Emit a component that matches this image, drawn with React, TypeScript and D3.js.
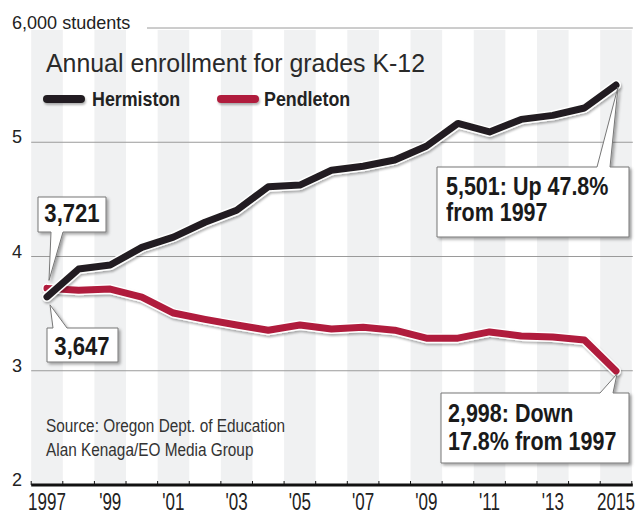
import React from 'react';
import * as d3 from 'd3';

// enrollment, grades K-12
const years = [1997, 1998, 1999, 2000, 2001, 2002, 2003, 2004, 2005, 2006, 2007, 2008, 2009, 2010, 2011, 2012, 2013, 2014, 2015];
const hermiston = [3647, 3890, 3925, 4080, 4170, 4300, 4405, 4610, 4625, 4755, 4790, 4845, 4965, 5165, 5090, 5200, 5235, 5300, 5501];
const pendleton = [3721, 3705, 3715, 3645, 3505, 3450, 3400, 3355, 3400, 3365, 3380, 3355, 3285, 3285, 3340, 3305, 3295, 3270, 2998];
const yTicks = [2000, 3000, 4000, 5000, 6000];
const yTickLabels = ['2', '3', '4', '5', '6,000 students'];
const xTickYears = [1997, 1999, 2001, 2003, 2005, 2007, 2009, 2011, 2013, 2015];
const xTickLabels = ['1997', "'99", "'01", "'03", "'05", "'07", "'09", "'11", "'13", '2015'];

const W = 635;
const H = 517;
const BLACK = '#231f20';
const RED = '#b01c3c';
const FONT = "'Liberation Sans', Arial, Helvetica, sans-serif";

// condensed look: regular font squeezed horizontally
function T(props: { x: number; y: number; size: number; sx?: number; bold?: boolean; anchor?: string; fill?: string; children: React.ReactNode }) {
  const { x, y, size, sx = 0.85, bold, anchor = 'start', fill = '#222', children } = props;
  return (
    <text transform={`translate(${x},${y}) scale(${sx},1)`} fontFamily={FONT} fontSize={size}
      fontWeight={bold ? 'bold' : 'normal'} textAnchor={anchor} fill={fill}>
      {children}
    </text>
  );
}

export default function App() {
  const x = d3.scaleLinear().domain([1997, 2015]).range([47, 616]);
  const y = d3.scaleLinear().domain([2000, 6000]).range([485, 28]);

  const line = d3.line<number>()
    .x((d, i) => x(years[i]))
    .y(d => y(d));

  const left = x(1996.5);
  const right = x(2015.5);
  const stripes = years.filter(yr => yr % 2 === 1);
  const boundaries = d3.range(1996.5, 2016, 1);

  // callout: box + wedge outline in one path
  const callout = (x0: number, y0: number, x1: number, y1: number, a: number, b: number, px: number, py: number, below: boolean) => {
    if (below) {
      return `M${x0},${y0}H${x1}V${y1}H${b}L${px},${py}L${a},${y1}H${x0}Z`;
    }
    return `M${x0},${y0}H${a}L${px},${py}L${b},${y0}H${x1}V${y1}H${x0}Z`;
  };

  const last = years.length - 1;

  return (
    <svg width={W} height={H} style={{ position: 'absolute', left: 0, top: 0, background: '#fff' }}>
      <defs>
        <filter id="shadow" filterUnits="userSpaceOnUse" x={0} y={0} width={W} height={H}>
          <feDropShadow dx="2" dy="2" stdDeviation="1.5" floodColor="#000" floodOpacity="0.35" />
        </filter>
        <filter id="lineShadow" filterUnits="userSpaceOnUse" x={0} y={0} width={W} height={H}>
          <feDropShadow dx="1" dy="2" stdDeviation="1.2" floodColor="#000" floodOpacity="0.3" />
        </filter>
      </defs>

      {stripes.map(yr => (
        <rect key={yr} x={x(yr - 0.5)} y={30} width={x(yr + 0.5) - x(yr - 0.5)} height={y(2000) - 30} fill="#f0f1f2" />
      ))}

      {yTicks.map((t, i) => (
        <g key={t}>
          {t > 2000 && (
            <line x1={t === 6000 ? 147 : left} x2={right + 1} y1={y(t)} y2={y(t)} stroke="#9a9a9a" strokeWidth={1} />
          )}
          <T x={12} y={y(t) + 1} size={19} sx={0.95}>{yTickLabels[i]}</T>
        </g>
      ))}

      <text x={46} y={72} fontFamily={FONT} fontSize={25} fill="#2a2a2a" textLength={379} lengthAdjust="spacingAndGlyphs">
        Annual enrollment for grades K-12
      </text>

      <g filter="url(#lineShadow)">
        <line x1={47} x2={81} y1={99} y2={99} stroke={BLACK} strokeWidth={8} strokeLinecap="round" />
        <line x1={221} x2={255} y1={99} y2={99} stroke={RED} strokeWidth={8} strokeLinecap="round" />
      </g>
      <T x={92} y={106} size={21} bold>Hermiston</T>
      <T x={264} y={106} size={21} bold>Pendleton</T>

      <T x={46} y={432} size={18.5} sx={0.83} fill="#333">Source: Oregon Dept. of Education</T>
      <T x={46} y={456} size={18.5} sx={0.83} fill="#333">Alan Kenaga/EO Media Group</T>

      <g filter="url(#lineShadow)">
        <path d={line(pendleton) || ''} fill="none" stroke="#fff" strokeWidth={10} strokeLinejoin="round" strokeLinecap="round" />
        <path d={line(pendleton) || ''} fill="none" stroke={RED} strokeWidth={7} strokeLinejoin="round" strokeLinecap="round" />
      </g>
      <g filter="url(#lineShadow)">
        <path d={line(hermiston) || ''} fill="none" stroke="#fff" strokeWidth={10} strokeLinejoin="round" strokeLinecap="round" />
        <path d={line(hermiston) || ''} fill="none" stroke={BLACK} strokeWidth={7} strokeLinejoin="round" strokeLinecap="round" />
      </g>

      <line x1={left} x2={right + 1} y1={y(2000)} y2={y(2000)} stroke="#111" strokeWidth={3} />
      {boundaries.map(b => (
        <line key={b} x1={x(b)} x2={x(b)} y1={y(2000) - 4} y2={y(2000)} stroke="#111" strokeWidth={1} />
      ))}
      {xTickYears.map((yr, i) => (
        <T key={yr} x={x(yr)} y={510} size={23} sx={0.74} anchor="middle">{xTickLabels[i]}</T>
      ))}

      {/* callouts */}
      <path d={callout(38, 197, 106, 232, 51, 63, x(1997) + 2, y(pendleton[0]) - 8, true)} fill="#fff" stroke="#777" strokeWidth={1} filter="url(#shadow)" />
      <T x={72} y={222} size={26} bold anchor="middle" fill="#1a1a1a">3,721</T>

      <path d={callout(47, 328, 118, 362, 53, 67, x(1997) + 3, y(hermiston[0]) + 8, false)} fill="#fff" stroke="#777" strokeWidth={1} filter="url(#shadow)" />
      <T x={82} y={355} size={26} bold anchor="middle" fill="#1a1a1a">3,647</T>

      <path d={callout(437, 167, 629, 237, 597, 610, x(2015) + 2, y(hermiston[last]) + 2, false)} fill="#fff" stroke="#777" strokeWidth={1} filter="url(#shadow)" />
      <T x={446} y={195} size={25} sx={0.86} bold fill="#1a1a1a">5,501: Up 47.8%</T>
      <T x={446} y={221} size={25} sx={0.86} bold fill="#1a1a1a">from 1997</T>

      <path d={callout(441, 393, 629, 463, 600, 613, x(2015) + 1, y(pendleton[last]) + 3, false)} fill="#fff" stroke="#777" strokeWidth={1} filter="url(#shadow)" />
      <T x={448} y={422} size={25} sx={0.86} bold fill="#1a1a1a">2,998: Down</T>
      <T x={448} y={450} size={25} sx={0.86} bold fill="#1a1a1a">17.8% from 1997</T>
    </svg>
  );
}
